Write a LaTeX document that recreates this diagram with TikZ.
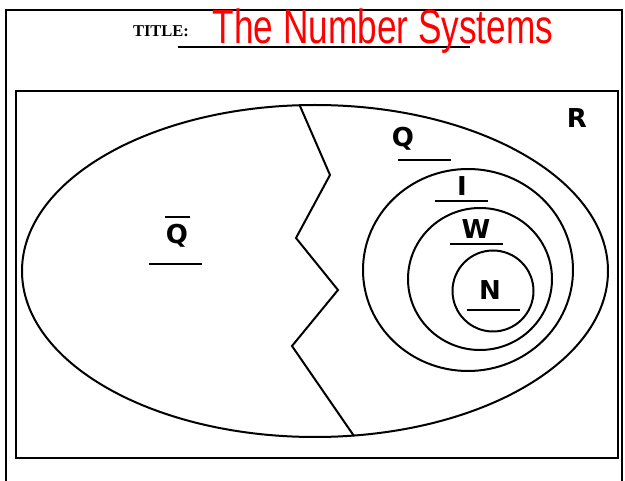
\documentclass[tikz,border=0pt]{standalone}
\usepackage{fontspec}
\setmainfont{Liberation Serif}
\newfontfamily\setfont{DejaVu Sans}
\newfontfamily\handfont{Liberation Sans}
\usetikzlibrary{positioning}

\begin{document}
\begin{tikzpicture}[
x=1pt, y=-1pt,
setlabel/.style={font=\setfont\bfseries\fontsize{26}{26}\selectfont, inner sep=0pt},
blank/.style={line width=1.6pt},
frame/.style={line width=2.4pt},
curve/.style={line width=2pt}
]
\useasboundingbox (0,0) rectangle (625,481);
% page frame and title line
\draw[frame] (6,495) -- (6,10) -- (622,10) -- (622,495);
\node[font=\bfseries\fontsize{16.5}{16.5}\selectfont, inner sep=0pt] (titlehead) at (161,31) {TITLE:};
\draw[blank] (178,47) -- (470,47);
\node[font=\handfont\fontsize{40}{40}\selectfont, text=red, inner sep=0pt, xscale=0.88, yscale=1.2] (titletext) at (383,31) {The Number Systems};
% sets
\draw[frame] (16,91) rectangle (618,458);
\draw[curve] (315,271) ellipse [x radius=293, y radius=166];
\draw[curve] (300,106) -- (330,175) -- (296,238) -- (338,290) -- (292,346) -- (354,436);
\draw[curve] (468,270) ellipse [x radius=105, y radius=101];
\draw[curve] (480,279) ellipse [x radius=72, y radius=71];
\draw[curve] (493,291) circle [radius=40.5];
% labels
\node[setlabel] (rlabel) at (577,118) {R};
\node[setlabel] (qbar) at (177,236) {Q};
\draw[blank] (165,217) -- (190,217);
\draw[blank] (149,264) -- (202,264);
\node[setlabel] (qlabel) at (403,139) {Q};
\draw[blank] (398,160) -- (451,160);
\node[setlabel] (ilabel) at (462,186) {I};
\draw[blank] (435,201) -- (488,201);
\node[setlabel] (wlabel) at (476,229) {W};
\draw[blank] (450,244) -- (503,244);
\node[setlabel] (nlabel) at (490,290) {N};
\draw[blank] (467,310) -- (520,310);
\end{tikzpicture}
\end{document}
